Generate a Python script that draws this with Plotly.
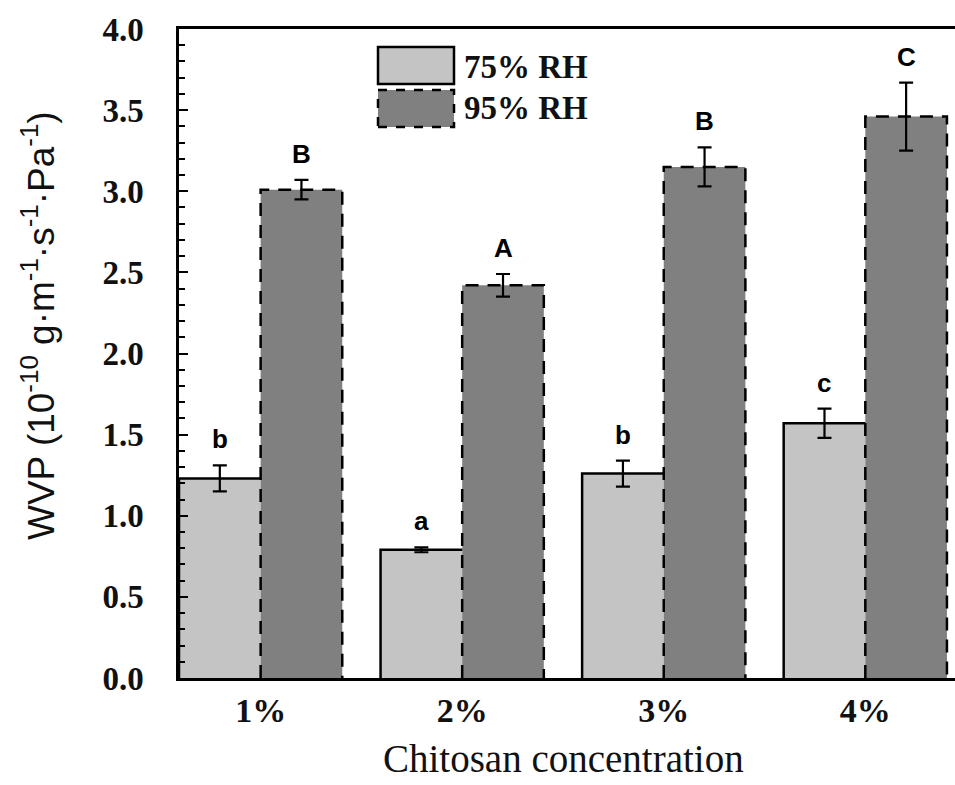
import plotly.graph_objects as go

# ---- data ----
categories = ["1%", "2%", "3%", "4%"]
rh75 = [1.23, 0.79, 1.26, 1.57]
rh75_err = [0.08, 0.015, 0.08, 0.09]
rh95 = [3.01, 2.42, 3.15, 3.46]
rh95_err = [0.06, 0.07, 0.12, 0.21]
letters75 = ["b", "a", "b", "c"]
letters95 = ["B", "A", "B", "C"]
series_names = ["75% RH", "95% RH"]
y_ticks = [0, 0.5, 1.0, 1.5, 2.0, 2.5, 3.0, 3.5, 4.0]

# ---- layout geometry (pixels) ----
W, H = 955, 785
L, R, T, B = 179, 0, 29, 107
PW, PH = W - L - R, H - T - B

def px_x(p):
    return (p - L) / PW

def px_y(p):
    return (H - B - p) / PH

BARGAP = 0.19
bw = (1 - BARGAP) / 2
xpos = list(range(len(categories)))

c75 = "#c4c4c4"
c95 = "#808080"

fig = go.Figure()
fig.add_trace(go.Bar(
    x=xpos, y=rh75, name=series_names[0], marker=dict(color=c75, line=dict(width=0)),
    error_y=dict(type="data", array=rh75_err, color="black", thickness=2.2, width=7),
    showlegend=False,
))
fig.add_trace(go.Bar(
    x=xpos, y=rh95, name=series_names[1], marker=dict(color=c95, line=dict(width=0)),
    error_y=dict(type="data", array=rh95_err, color="black", thickness=2.2, width=7),
    showlegend=False,
))

# outlines: solid for 75% (left + top), dashed for 95% (left, top, right)
for i, x in enumerate(xpos):
    x0, x1, x2 = x - bw, x, x + bw
    fig.add_trace(go.Scatter(
        x=[x0, x0, x1], y=[0, rh75[i], rh75[i]], mode="lines",
        line=dict(color="black", width=2.5), showlegend=False, hoverinfo="skip",
    ))
    fig.add_trace(go.Scatter(
        x=[x1, x1, x2, x2], y=[0, rh95[i], rh95[i], 0], mode="lines",
        line=dict(color="black", width=2.5, dash="13px,9px"), showlegend=False, hoverinfo="skip",
    ))

# significance letters
annots = []
for i, x in enumerate(xpos):
    for xc, val, err, lab in [(x - bw / 2, rh75[i], rh75_err[i], letters75[i]),
                              (x + bw / 2, rh95[i], rh95_err[i], letters95[i])]:
        annots.append(dict(
            x=xc, y=val + err, xref="x", yref="y", text=lab, showarrow=False,
            yanchor="middle", yshift=26,
            font=dict(family="Liberation Sans, Arial", size=26, color="black", weight="bold"),
        ))

# axis titles
annots.append(dict(
    x=px_x(38), y=px_y(326), xref="paper", yref="paper", textangle=-90,
    text="WVP (10<sup>-10</sup> g·m<sup>-1</sup>·s<sup>-1</sup>·Pa<sup>-1</sup>)",
    showarrow=False, xanchor="center", yanchor="middle",
    font=dict(family="Liberation Sans, Arial", size=37, color="#111"),
))
annots.append(dict(
    x=px_x(563), y=px_y(758), xref="paper", yref="paper",
    text="Chitosan concentration", showarrow=False, xanchor="center", yanchor="middle",
    font=dict(family="Liberation Serif, Times New Roman", size=39, color="#111"),
))

# legend (custom drawn to match large swatches)
shapes = [
    dict(type="rect", xref="paper", yref="paper", x0=px_x(378), x1=px_x(454),
         y0=px_y(84), y1=px_y(47), fillcolor=c75, line=dict(color="black", width=2.5)),
    dict(type="rect", xref="paper", yref="paper", x0=px_x(378), x1=px_x(454),
         y0=px_y(127), y1=px_y(90), fillcolor=c95, line=dict(color="black", width=2.5, dash="dash")),
]
for name, cy in zip(series_names, [67, 108]):
    annots.append(dict(
        x=px_x(462), y=px_y(cy), xref="paper", yref="paper", text=name, showarrow=False,
        xanchor="left", yanchor="middle",
        font=dict(family="Liberation Serif, Times New Roman", size=33, color="#111", weight="bold"),
    ))

fig.update_layout(
    width=W, height=H,
    margin=dict(l=L, r=R, t=T, b=B, pad=0),
    paper_bgcolor="white", plot_bgcolor="white",
    barmode="group", bargap=BARGAP, bargroupgap=0,
    annotations=annots, shapes=shapes,
    showlegend=False,
)
fig.update_xaxes(
    range=[-0.405, 3.445], tickvals=xpos, ticktext=categories,
    showline=True, linecolor="black", linewidth=2.5, mirror=True,
    showgrid=False, zeroline=False, ticks="",
    tickfont=dict(family="Liberation Serif, Times New Roman", size=34, color="#111", weight="bold"),
    ticklabelstandoff=0,
)
fig.update_yaxes(
    range=[0, 4], tickvals=y_ticks, tickformat=".1f",
    showline=True, linecolor="black", linewidth=2.5, mirror=False,
    showgrid=False, zeroline=False,
    ticks="inside", ticklen=9, tickwidth=2, tickcolor="black",
    minor=dict(dtick=0.1, ticks="inside", ticklen=6, tickwidth=2, tickcolor="black", showgrid=False),
    tickfont=dict(family="Liberation Serif, Times New Roman", size=33, color="#111", weight="bold"),
    ticklabelstandoff=26,
)

fig.write_html("out.html")
